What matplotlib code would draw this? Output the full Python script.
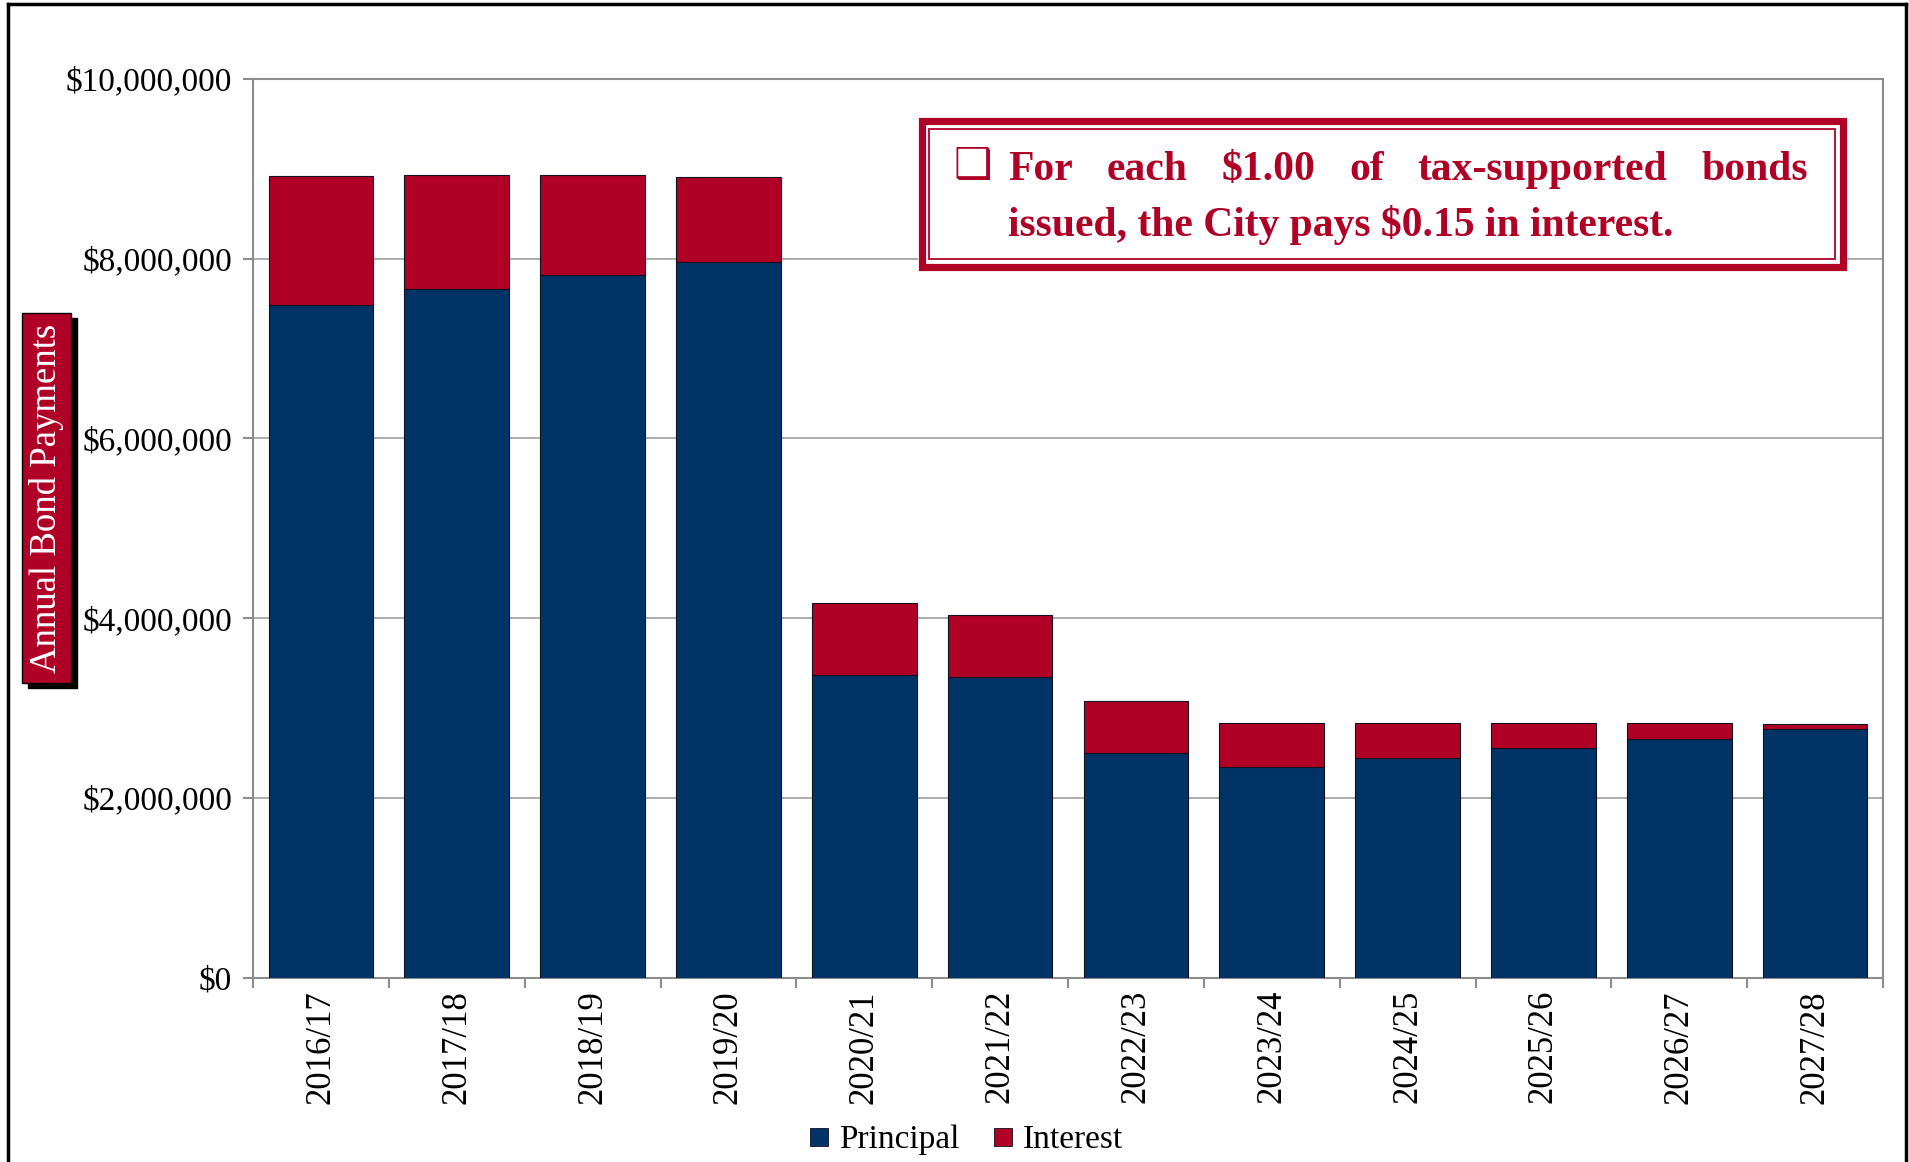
import matplotlib.pyplot as plt
import numpy as np
from matplotlib.patches import Rectangle
from matplotlib.lines import Line2D
from matplotlib.ticker import FuncFormatter

years = ["2016/17", "2017/18", "2018/19", "2019/20", "2020/21", "2021/22",
         "2022/23", "2023/24", "2024/25", "2025/26", "2026/27", "2027/28"]
principal = [7.486e6, 7.665e6, 7.820e6, 7.969e6, 3.370e6, 3.344e6,
             2.498e6, 2.342e6, 2.443e6, 2.551e6, 2.659e6, 2.767e6]
interest = [1.429e6, 1.269e6, 1.114e6, 0.944e6, 0.801e6, 0.686e6,
            0.579e6, 0.490e6, 0.395e6, 0.287e6, 0.179e6, 0.060e6]

note_line1 = "For each $1.00 of tax-supported bonds"
note_line2 = "issued, the City pays $0.15 in interest."

navy = "#003366"
red = "#b00026"
grey = "#8c8c8c"

plt.rcParams['font.family'] = ['Liberation Serif', 'DejaVu Serif']

W, H = 1909, 1162
fig = plt.figure(figsize=(W / 100, H / 100), dpi=100)
ax = fig.add_axes([253 / W, 1 - 977.6 / H, (1883 - 253) / W, (977.6 - 79) / H])

x = np.arange(len(years))
ax.bar(x, principal, 0.77, color=navy, edgecolor="#101020", linewidth=0.8,
       label="Principal", zorder=3)
ax.bar(x, interest, 0.77, bottom=principal, color=red, edgecolor="#101020",
       linewidth=0.8, label="Interest", zorder=3)

ax.set_xlim(-0.5, len(years) - 0.5)
ax.set_ylim(0, 10e6)
ax.set_yticks(np.arange(0, 10.1e6, 2e6))
ax.yaxis.set_major_formatter(FuncFormatter(lambda v, p: f"${v:,.0f}"))
ax.grid(axis="y", color="#a6a6a6", lw=1.3, zorder=0)
for s in ax.spines.values():
    s.set_color(grey)
    s.set_linewidth(1.5)

ax.set_xticks(x)
ax.set_xticklabels(years, rotation=90)
ax.set_xticks(np.arange(-0.5, len(years), 1), minor=True)
ax.tick_params(axis="x", which="major", length=0, pad=9, labelsize=25)
ax.tick_params(axis="x", which="minor", length=7, width=1.5, color=grey)
ax.tick_params(axis="y", length=7, width=1.5, color=grey, labelsize=24, pad=8)

# legend
handles = [Line2D([], [], ls="none", marker="s", markersize=13, markerfacecolor=navy,
                  markeredgecolor="#101020", markeredgewidth=0.6, label="Principal"),
           Line2D([], [], ls="none", marker="s", markersize=13, markerfacecolor=red,
                  markeredgecolor="#101020", markeredgewidth=0.6, label="Interest")]
fig.legend(handles=handles, loc="center", bbox_to_anchor=(0.506, 1 - 1140 / H),
           ncol=2, frameon=False, fontsize=24, handlelength=0.6,
           handletextpad=0.3, columnspacing=1.0)

# outer frame (left, top, right)
for xs, ys in [([8 / W, 8 / W], [0, 1 - 4 / H]),
               ([8 / W, 1906 / W], [1 - 4 / H, 1 - 4 / H]),
               ([1906 / W, 1906 / W], [0, 1 - 4 / H])]:
    fig.add_artist(Line2D(xs, ys, color="black", lw=2.5, transform=fig.transFigure))

# y label box with shadow
fig.add_artist(Rectangle((28 / W, 1 - 688 / H), 49 / W, 370 / H, transform=fig.transFigure,
                         color="black", zorder=5))
fig.add_artist(Rectangle((22 / W, 1 - 683 / H), 49 / W, 370 / H, transform=fig.transFigure,
                         facecolor=red, edgecolor="black", lw=1, zorder=6))
fig.text(46.5 / W, 1 - 498 / H, "Annual Bond Payments", rotation=90, color="white",
         fontsize=26.5, ha="center", va="center", zorder=7)

# note box
bx0, bx1, by0, by1 = 918, 1846, 118, 270
fig.add_artist(Rectangle(((bx0 + 3.5) / W, 1 - (by1 - 3.5) / H), (bx1 - bx0 - 7) / W,
                         (by1 - by0 - 7) / H, transform=fig.transFigure, fill=False,
                         edgecolor=red, lw=5.2, zorder=5))
fig.add_artist(Rectangle(((bx0 + 11) / W, 1 - (by1 - 11) / H), (bx1 - bx0 - 22) / W,
                         (by1 - by0 - 22) / H, transform=fig.transFigure, fill=False,
                         edgecolor=red, lw=1.3, zorder=5))
fig.add_artist(Rectangle((bx0 / W, 1 - by1 / H), (bx1 - bx0) / W, (by1 - by0) / H,
                         transform=fig.transFigure, facecolor="white", edgecolor="none",
                         zorder=4))
fig.text(973 / W, 1 - 166 / H, "\u2751", family=["DejaVu Sans"], color=red, fontsize=31,
         ha="center", va="center", zorder=6)

# justified first line
renderer = fig.canvas.get_renderer()
tx0, tx1 = 1008, 1808
fs = 30
words = note_line1.split()
widths = []
for w in words:
    t = fig.text(0, 0, w, fontsize=fs, fontweight="bold")
    widths.append(t.get_window_extent(renderer).width)
    t.remove()
gap = (tx1 - tx0 - sum(widths)) / (len(words) - 1)
pos = tx0
for w, wd in zip(words, widths):
    fig.text(pos / W, 1 - 170 / H, w, fontsize=fs, fontweight="bold", color=red,
             ha="left", va="center", zorder=6)
    pos += wd + gap
fig.text(tx0 / W, 1 - 225 / H, note_line2, fontsize=fs, fontweight="bold", color=red,
         ha="left", va="center", zorder=6)

fig.savefig("out.png", dpi=100, facecolor="white")
